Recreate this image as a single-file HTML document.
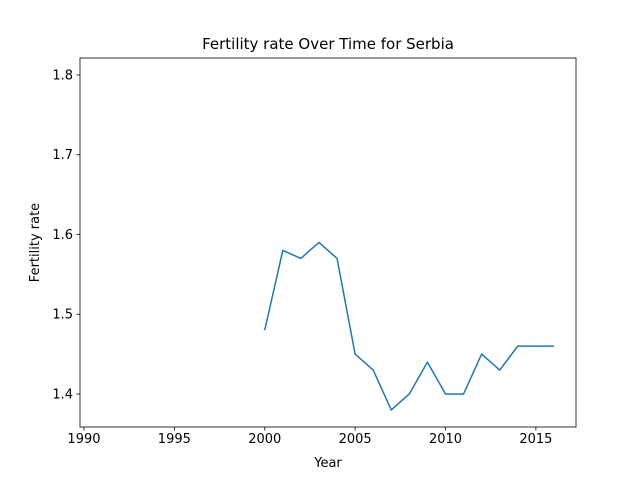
<!DOCTYPE html>
<html><head><meta charset="utf-8"><style>
body{margin:0;background:#fff;}
svg{display:block;font-family:"DejaVu Sans","Liberation Sans",sans-serif;}
</style></head><body>
<svg id="chart" width="640" height="480" xmlns="http://www.w3.org/2000/svg">
<rect width="640" height="480" fill="#fff"/>
<text x="328" y="49" text-anchor="middle" font-size="15">Fertility rate Over Time for Serbia</text>
<text x="328" y="467" text-anchor="middle" font-size="13">Year</text>
<text transform="translate(39,242.5) rotate(-90)" text-anchor="middle" font-size="13">Fertility rate</text>
<g id="ticks"></g>
<polyline id="line" fill="none" stroke="#1f77b4" stroke-width="1.5" stroke-linejoin="round"/>
<rect x="80" y="58" width="496" height="369" fill="none" stroke="#000" stroke-width="0.8"/>
</svg>
<script>
const years=[2000,2001,2002,2003,2004,2005,2006,2007,2008,2009,2010,2011,2012,2013,2014,2015,2016];
const rates=[1.48,1.58,1.57,1.59,1.57,1.45,1.43,1.38,1.40,1.44,1.40,1.40,1.45,1.43,1.46,1.46,1.46];
const xTicks=[1990,1995,2000,2005,2010,2015];
const yTicks=[1.4,1.5,1.6,1.7,1.8];
const X0=80,X1=576,Y0=427,Y1=58,xmin=1989.78,xmax=2017.22,ymin=1.3586,ymax=1.8213;
function sx(v){return X0+(v-xmin)/(xmax-xmin)*(X1-X0);}
function sy(v){return Y0-(v-ymin)/(ymax-ymin)*(Y0-Y1);}
const ns="http://www.w3.org/2000/svg",g=document.getElementById('ticks');
function mk(t,a){const e=document.createElementNS(ns,t);for(const k in a)e.setAttribute(k,a[k]);return e;}
xTicks.forEach(v=>{const x=sx(v);
const l=mk('line',{x1:x,x2:x,y1:427,y2:430.5,stroke:'#000','stroke-width':0.8});


g.appendChild(l);
const t=mk('text',{x:x,y:443,'text-anchor':'middle','font-size':13});t.textContent=v;


g.appendChild(t);});
yTicks.forEach(v=>{const y=sy(v);
const l=mk('line',{x1:76.5,x2:80,y1:y,y2:y,stroke:'#000','stroke-width':0.8});


g.appendChild(l);
const t=mk('text',{x:73,y:y+4.5,'text-anchor':'end','font-size':13});t.textContent=v.toFixed(1);


g.appendChild(t);});
document.getElementById('line').setAttribute('points',years.map((y,i)=>sx(y)+','+sy(rates[i])).join(' '));
</script>
</body></html>
